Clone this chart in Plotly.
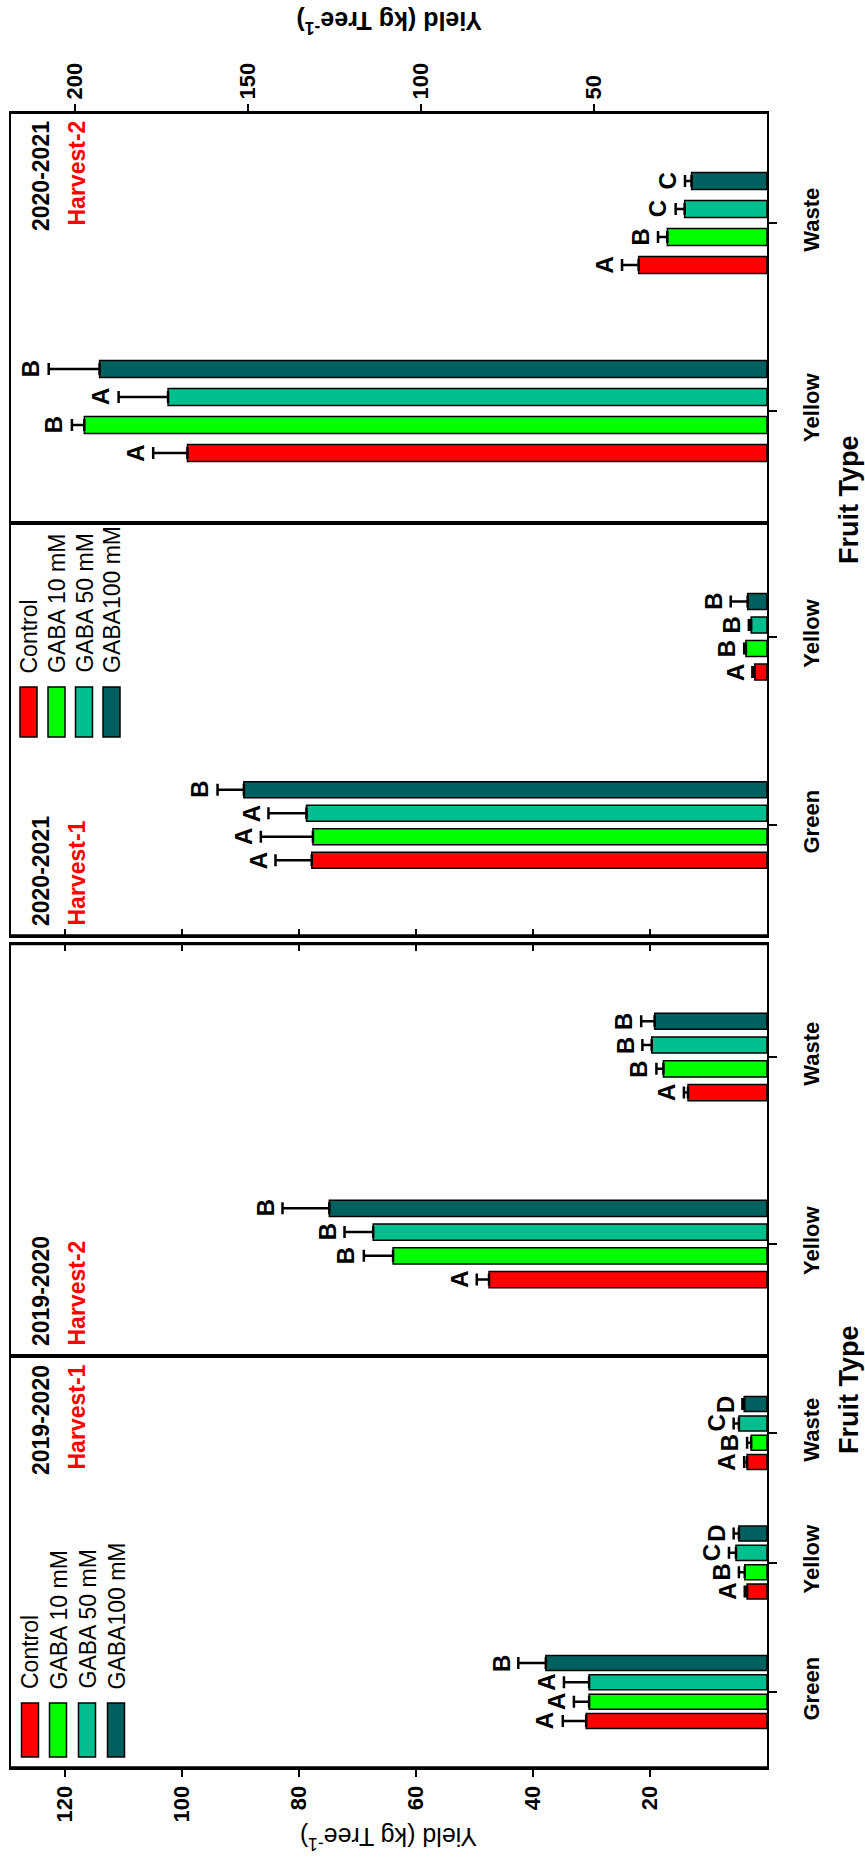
import plotly.graph_objects as go

W, H = 865, 1863

# ---------------- data ----------------
treatments = ["Control", "GABA 10 mM", "GABA 50 mM", "GABA100 mM"]
colors = ["#FF0000", "#00FF00", "#00BF8F", "#006060"]

# 2019-2020, Harvest-1
cats_19_h1 = ["Green", "Yellow", "Waste"]
mean_19_h1 = [[30.9, 3.4, 3.4], [30.4, 3.8, 2.7], [30.4, 5.3, 4.8], [37.8, 4.8, 3.9]]
err_19_h1 = [[4.0, 0.4, 0.5], [2.6, 1.0, 0.7], [4.3, 1.2, 0.9], [4.7, 0.9, 0.3]]
let_19_h1 = [["A", "A", "A"], ["A", "B", "B"], ["A", "C", "C"], ["B", "D", "D"]]

# 2019-2020, Harvest-2
cats_19_h2 = ["Yellow", "Waste"]
mean_19_h2 = [[47.5, 13.5], [63.9, 17.7], [67.3, 19.7], [74.8, 19.2]]
err_19_h2 = [[2.1, 0.7], [5.0, 1.2], [4.9, 1.6], [8.0, 2.3]]
let_19_h2 = [["A", "A"], ["B", "B"], ["B", "B"], ["B", "B"]]

# 2020-2021, Harvest-1
cats_20_h1 = ["Green", "Yellow"]
mean_20_h1 = [[77.8, 2.1], [77.6, 3.6], [78.7, 2.7], [89.4, 3.3]]
err_20_h1 = [[6.2, 0.4], [8.9, 0.3], [6.5, 0.4], [4.5, 2.9]]
let_20_h1 = [["A", "A"], ["A", "B"], ["A", "B"], ["B", "B"]]

# 2020-2021, Harvest-2
cats_20_h2 = ["Yellow", "Waste"]
mean_20_h2 = [[167.5, 37.1], [197.3, 28.8], [173.1, 23.8], [192.9, 21.8]]
err_20_h2 = [[9.9, 4.8], [3.6, 2.7], [14.3, 2.6], [14.7, 1.9]]
let_20_h2 = [["A", "A"], ["B", "B"], ["A", "C"], ["B", "C"]]

ticks_small = [20, 40, 60, 80, 100, 120]
ticks_big = [50, 100, 150, 200]

FONT = "Liberation Sans, Arial, sans-serif"


def px(x):
    return x / W


def py(y):
    return 1 - y / H


# panel geometry (pixels): x from left border to zero line, y top/bottom
X0, X1 = 11, 767
panels = [
    # key, axis suffix, top, bottom, cats, means, errs, letters, xmax, yrange, pitch, thick
    ("20h2", "", 113, 523, cats_20_h2, mean_20_h2, err_20_h2, let_20_h2, 218.5, [-0.596, 1.585], 0.149, 0.090),
    ("20h1", "2", 523, 936, cats_20_h1, mean_20_h1, err_20_h1, let_20_h1, 129.2, [-0.59, 1.605], 0.125, 0.085),
    ("19h2", "3", 944, 1356, cats_19_h2, mean_19_h2, err_19_h2, let_19_h2, 129.2, [-0.599, 1.604], 0.127, 0.086),
    ("19h1", "4", 1356, 1768, cats_19_h1, mean_19_h1, err_19_h1, let_19_h1, 129.2, [-0.587, 2.595], 0.149, 0.116),
]

fig = go.Figure()
annotations = []
shapes = []

for key, sfx, top, bot, cats, means, errs, letters, xmax, yr, pitch, thick in panels:
    xa = "x" + sfx
    ya = "y" + sfx
    for i, name in enumerate(treatments):
        off = (i - 1.5) * pitch
        fig.add_trace(go.Bar(
            y=cats, x=means[i], orientation="h",
            xaxis=xa, yaxis=ya, name=name, showlegend=False,
            width=thick, offset=off - thick / 2,
            marker=dict(color=colors[i], line=dict(color="black", width=1.5)),
            error_x=dict(type="data", array=errs[i], arrayminus=[0] * len(cats),
                         symmetric=False, color="black", thickness=2.5, width=6),
        ))
        for j, c in enumerate(cats):
            annotations.append(dict(
                x=means[i][j] + errs[i][j], y=j + off, xref=xa, yref=ya,
                text=letters[i][j], showarrow=False, textangle=-90,
                xanchor="right", yanchor="middle", xshift=-2,
                font=dict(family=FONT, size=24, color="black", weight="bold"),
            ))

    xl = dict(
        domain=[px(X0), px(X1)], range=[xmax, 0], anchor=ya,
        showline=True, mirror=True, linecolor="black", linewidth=2,
        showgrid=False, zeroline=False,
        tickfont=dict(family=FONT, size=22, color="black", weight="bold"),
        tickangle=-90, tickcolor="black", tickwidth=2, ticklen=7,
    )
    yl = dict(
        domain=[py(bot), py(top)], range=yr, anchor=xa, type="category",
        categoryarray=cats, side="right",
        showline=True, mirror=True, linecolor="black", linewidth=1.5,
        showgrid=False, zeroline=False,
        ticks="outside", ticklen=8, tickwidth=1.5, tickcolor="black",
        tickangle=-90, ticklabelstandoff=16,
        tickfont=dict(family=FONT, size=22, color="black", weight="bold"),
    )
    if key == "20h2":
        xl.update(side="top", ticks="outside", tickvals=ticks_big, showticklabels=True)
    elif key == "20h1":
        xl.update(side="bottom", ticks="inside", tickvals=ticks_small, showticklabels=False)
    elif key == "19h2":
        xl.update(side="top", ticks="inside", tickvals=ticks_small, showticklabels=False)
    else:
        xl.update(side="bottom", ticks="outside", tickvals=ticks_small, showticklabels=True)
    fig.update_layout({"xaxis" + sfx: xl, "yaxis" + sfx: yl})

# heavier frame lines (dividers and value-axis lines)
for yline, wline in [(523, 3.5), (936, 3.5), (944, 2.5), (1356, 3.5), (1768, 3.5), (113, 2)]:
    shapes.append(dict(type="line", xref="paper", yref="paper",
                       x0=px(X0), x1=px(X1), y0=py(yline), y1=py(yline),
                       line=dict(color="black", width=wline)))

# legends (rotated swatches + labels)
def add_legend(xs, y_top, y_bot):
    for i, name in enumerate(treatments):
        xc = xs[i]
        shapes.append(dict(type="rect", xref="paper", yref="paper",
                           x0=px(xc - 8.5), x1=px(xc + 8.5), y0=py(y_bot), y1=py(y_top),
                           fillcolor=colors[i], line=dict(color="black", width=1.5)))
        annotations.append(dict(
            x=px(xc), y=py(y_top - 12), xref="paper", yref="paper",
            text=name, showarrow=False, textangle=-90,
            xanchor="center", yanchor="bottom",
            font=dict(family=FONT, size=23, color="black"),
        ))


add_legend([28.5, 56.5, 84, 111.5], 687, 737)
add_legend([30, 58, 87, 116], 1703, 1757)

# panel captions
def caption(year, harvest, y, anchor):
    annotations.append(dict(x=px(41), y=py(y), xref="paper", yref="paper", text=year,
                            showarrow=False, textangle=-90, xanchor="center", yanchor=anchor,
                            font=dict(family=FONT, size=23, color="black", weight="bold")))
    annotations.append(dict(x=px(76), y=py(y), xref="paper", yref="paper", text=harvest,
                            showarrow=False, textangle=-90, xanchor="center", yanchor=anchor,
                            font=dict(family=FONT, size=23, color="red", weight="bold")))


caption("2020-2021", "Harvest-2", 119, "top")
caption("2020-2021", "Harvest-1", 928, "bottom")
caption("2019-2020", "Harvest-2", 1348, "bottom")
caption("2019-2020", "Harvest-1", 1363, "top")

# axis titles
for yv, bold in [(22, True), (1838, False)]:
    annotations.append(dict(
        x=px(389), y=py(yv), xref="paper", yref="paper",
        text="Yield (kg Tree<sup>-1</sup>)", showarrow=False, textangle=180,
        xanchor="center", yanchor="middle",
        font=dict(family=FONT, size=25, color="black", weight="bold" if bold else "normal"),
    ))
for yv in [500, 1390]:
    annotations.append(dict(
        x=px(849), y=py(yv), xref="paper", yref="paper",
        text="Fruit Type", showarrow=False, textangle=-90,
        xanchor="center", yanchor="middle",
        font=dict(family=FONT, size=27, color="black", weight="bold"),
    ))

fig.update_layout(
    width=W, height=H, margin=dict(l=0, r=0, t=0, b=0),
    paper_bgcolor="white", plot_bgcolor="white",
    barmode="overlay", showlegend=False,
    annotations=annotations, shapes=shapes,
    font=dict(family=FONT, color="black"),
)

fig.write_html("out.html")
